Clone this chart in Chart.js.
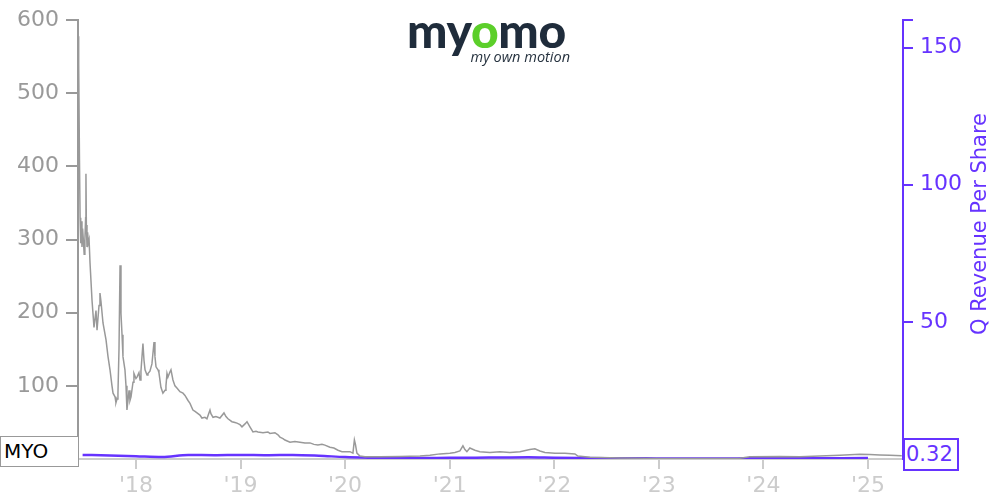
<!DOCTYPE html>
<html>
<head>
<meta charset="utf-8">
<script src="https://cdn.jsdelivr.net/npm/chart.js@4.4.0/dist/chart.umd.min.js"></script>
<style>
  html, body { margin: 0; padding: 0; background: #fff; }
  #wrap { position: relative; width: 1000px; height: 500px; overflow: hidden; }
  canvas { position: absolute; left: 0; top: 0; }
  .logo { position: absolute; left: 407px; top: 6px; width: 166px; text-align: right; }
  .logo .word { font-family: Lato, "Open Sans", sans-serif; font-weight: 900; font-size: 48px; color: #1f2c3b; letter-spacing: -0.3px; line-height: 48px; text-align: left; }
  .logo .word span { color: #5ccf2a; }
  .logo .tag { font-family: "Open Sans", Lato, sans-serif; font-style: italic; font-size: 14.5px; color: #26323f; line-height: 14px; margin-top: -4px; margin-right: 3px; }
  .tagbox { position: absolute; box-sizing: border-box; font-family: "DejaVu Sans", sans-serif; background: #fff; }
  #sym { left: 0; top: 436px; width: 79px; height: 31px; border: 1px solid #999; color: #000; font-size: 20px; line-height: 29px; padding-left: 3px; }
  #last { left: 903px; top: 438px; width: 56px; height: 33px; border: 2px solid #6633ff; color: #6633ff; font-size: 21px; line-height: 29px; padding-left: 1px; }
</style>
</head>
<body>
<div id="wrap">
  <canvas id="c" width="1000" height="500"></canvas>
  <div class="logo"><div class="word">my<span>o</span>mo</div><div class="tag">my own motion</div></div>
  <div id="sym" class="tagbox">MYO</div>
  <div id="last" class="tagbox">0.32</div>
</div>
<script>
// ---- data ----
const priceYears = [
  2017.446, 2017.450, 2017.455, 2017.460, 2017.466, 2017.472, 2017.478, 2017.484, 2017.490, 2017.497,
  2017.505, 2017.512, 2017.519, 2017.522, 2017.526, 2017.532, 2017.538, 2017.544, 2017.552, 2017.561,
  2017.580, 2017.599, 2017.618, 2017.628, 2017.647, 2017.656, 2017.666, 2017.685, 2017.714, 2017.733,
  2017.752, 2017.771, 2017.781, 2017.800, 2017.809, 2017.819, 2017.828, 2017.838, 2017.848, 2017.857,
  2017.867, 2017.876, 2017.895, 2017.905, 2017.914, 2017.924, 2017.934, 2017.943, 2017.953, 2017.972,
  2017.981, 2018.000, 2018.010, 2018.029, 2018.039, 2018.048, 2018.067, 2018.077, 2018.087, 2018.106,
  2018.115, 2018.134, 2018.153, 2018.173, 2018.182, 2018.192, 2018.211, 2018.220, 2018.239, 2018.258,
  2018.278, 2018.287, 2018.297, 2018.306, 2018.325, 2018.335, 2018.354, 2018.373, 2018.392, 2018.421,
  2018.450, 2018.469, 2018.498, 2018.517, 2018.545, 2018.565, 2018.584, 2018.612, 2018.631, 2018.660,
  2018.679, 2018.708, 2018.717, 2018.737, 2018.765, 2018.803, 2018.842, 2018.861, 2018.880, 2018.918,
  2018.947, 2018.966, 2018.995, 2019.014, 2019.043, 2019.062, 2019.090, 2019.119, 2019.148, 2019.167,
  2019.215, 2019.262, 2019.281, 2019.329, 2019.358, 2019.377, 2019.406, 2019.425, 2019.473, 2019.520,
  2019.568, 2019.616, 2019.664, 2019.702, 2019.740, 2019.779, 2019.807, 2019.855, 2019.893, 2019.932,
  2019.970, 2020.008, 2020.046, 2020.075, 2020.089, 2020.099, 2020.113, 2020.142, 2020.190, 2020.333,
  2020.524, 2020.716, 2020.811, 2020.907, 2021.002, 2021.050, 2021.098, 2021.127, 2021.146, 2021.165,
  2021.193, 2021.241, 2021.289, 2021.385, 2021.480, 2021.576, 2021.672, 2021.767, 2021.815, 2021.863,
  2021.911, 2022.007, 2022.102, 2022.198, 2022.226, 2022.341, 2022.628, 2023.010, 2023.392, 2023.775,
  2023.870, 2024.157, 2024.348, 2024.539, 2024.731, 2024.922, 2025.017, 2025.113, 2025.208, 2025.323
];
const priceValues = [
  430, 578, 540, 410, 330, 295, 325, 290, 315, 300,
  280, 300, 330, 390, 320, 290, 310, 295, 300, 268,
  217, 180, 203, 176, 210, 227, 215, 186, 163, 140,
  122, 100, 90, 85, 77, 82, 90, 150, 265, 199,
  170, 140, 122, 100, 67, 80, 94, 80, 85, 105,
  117, 110, 112, 118, 108, 120, 158, 135, 122, 115,
  117, 120, 130, 160, 140, 126, 122, 118, 98, 90,
  94, 100, 117, 112, 119, 122, 108, 100, 97, 92,
  90, 87, 80, 76, 67, 65, 63, 60, 56, 57,
  55, 67, 62, 57, 58, 56, 63, 58, 55, 51,
  50, 49, 47, 44, 48, 51, 44, 37, 38, 37,
  36, 37, 35, 36, 33, 30, 28, 26, 23, 24,
  23, 22, 22, 20, 19, 20, 19, 16, 15, 12,
  10, 10, 10, 8, 26, 20, 8, 4, 3, 3,
  3.5, 4, 5, 7, 8, 9, 11, 18, 13, 10,
  15, 12, 10, 9, 10, 9, 10, 13, 14, 11,
  9, 8, 8, 7, 4, 2.5, 1.5, 0.8, 0.7, 1,
  3, 3.5, 3, 4, 5, 6.5, 6, 5.5, 5, 4.5
];
const revYears = [
  2017.49, 2017.75, 2018.0, 2018.25, 2018.5, 2018.75, 2019.0, 2019.25, 2019.5, 2019.75,
  2020.0, 2020.25, 2020.5, 2020.75, 2021.0, 2021.25, 2021.5, 2021.75, 2022.0, 2022.25,
  2022.5, 2022.75, 2023.0, 2023.25, 2023.5, 2023.75, 2024.0, 2024.25, 2024.5, 2024.75, 2025.0
];
const revValues = [
  1.5, 1.3, 1.0, 0.7, 1.45, 1.4, 1.5, 1.4, 1.5, 1.2,
  0.7, 0.45, 0.3, 0.35, 0.45, 0.5, 0.55, 0.6, 0.45, 0.35,
  0.3, 0.3, 0.2, 0.2, 0.2, 0.22, 0.25, 0.25, 0.28, 0.3, 0.32
];
const xTickYears = [2018, 2019, 2020, 2021, 2022, 2023, 2024, 2025];
const leftTicks = [100, 200, 300, 400, 500, 600];
const rightTicks = [50, 100, 150, 160];
const rightTickLabels = ['50', '100', '150', ''];
const rightTitle = 'Q Revenue Per Share';

const PURPLE = '#6633ff';
const FONT = '"DejaVu Sans", sans-serif';

const priceData = priceYears.map((x, i) => ({ x, y: priceValues[i] }));
const revData = revYears.map((x, i) => ({ x, y: revValues[i] }));

const titlePlugin = {
  id: 'rightTitle',
  afterDraw(chart) {
    const ctx = chart.ctx;
    ctx.save();
    ctx.translate(981, 224);
    ctx.rotate(-Math.PI / 2);
    ctx.fillStyle = PURPLE;
    ctx.font = '21px ' + FONT;
    ctx.textAlign = 'center';
    ctx.textBaseline = 'middle';
    ctx.fillText(rightTitle, 0, 0);
    ctx.restore();
  }
};

new Chart(document.getElementById('c'), {
  type: 'line',
  data: {
    datasets: [
      {
        data: priceData, yAxisID: 'y', borderColor: '#999999', borderWidth: 1.5,
        pointRadius: 0, tension: 0, fill: false
      },
      {
        data: revData, yAxisID: 'y2', borderColor: PURPLE, borderWidth: 2.5,
        pointRadius: 0, cubicInterpolationMode: 'monotone', fill: false
      }
    ]
  },
  plugins: [titlePlugin],
  options: {
    responsive: false,
    animation: false,
    events: [],
    layout: { padding: { top: 20, left: 0, right: 0, bottom: 0 } },
    plugins: { legend: { display: false }, tooltip: { enabled: false } },
    scales: {
      x: {
        type: 'linear',
        min: 2017.446, max: 2025.335,
        afterBuildTicks(s) { s.ticks = xTickYears.map(v => ({ value: v })); },
        afterFit(s) { s.height = 41; },
        grid: { drawOnChartArea: false, drawTicks: true, tickLength: 10, color: '#cccccc', lineWidth: 2 },
        border: { display: true, color: '#cccccc', width: 2 },
        ticks: {
          autoSkip: false, maxRotation: 0, padding: 4, color: '#cccccc',
          font: { family: FONT, size: 22 },
          callback: v => "'" + String(v).slice(2)
        }
      },
      y: {
        position: 'left', min: 0, max: 600,
        afterBuildTicks(s) { s.ticks = leftTicks.map(v => ({ value: v })); },
        afterFit(s) { s.width = 78; },
        grid: { drawOnChartArea: false, drawTicks: true, tickLength: 12, color: '#999999', lineWidth: 2 },
        border: { display: true, color: '#999999', width: 2 },
        ticks: { padding: 7, color: '#999999', font: { family: FONT, size: 22 } }
      },
      y2: {
        position: 'right', min: 0, max: 160,
        afterBuildTicks(s) { s.ticks = rightTicks.map(v => ({ value: v })); },
        afterFit(s) { s.width = 97; },
        grid: { drawOnChartArea: false, drawTicks: true, tickLength: 10, color: PURPLE, lineWidth: 2 },
        border: { display: true, color: PURPLE, width: 2 },
        ticks: {
          padding: 7, color: PURPLE, font: { family: FONT, size: 22 },
          callback: (v, i) => rightTickLabels[i]
        }
      }
    }
  }
});
</script>
</body>
</html>
